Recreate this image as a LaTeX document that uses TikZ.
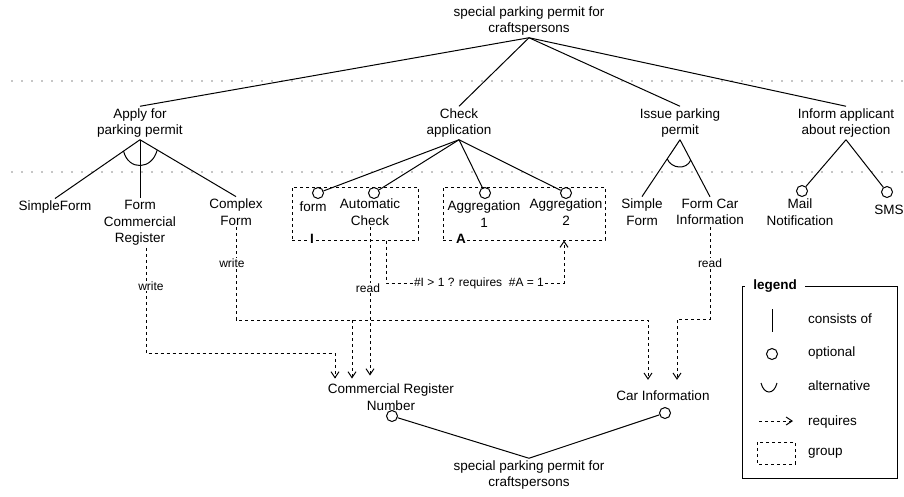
\documentclass[tikz,border=0pt]{standalone}
\usepackage{fontspec}
\setmainfont{Liberation Sans}
\usetikzlibrary{arrows.meta,calc}
\newcommand\mainsz{\fontsize{13.5pt}{16.5pt}\selectfont}
\newcommand\lblsz{\fontsize{12pt}{14pt}\selectfont}
\begin{document}
\begin{tikzpicture}[x=1pt,y=-1pt,
  txt/.style={align=center,inner sep=2pt,font=\mainsz},
  lbl/.style={font=\lblsz,fill=white,inner sep=1pt},
  opt/.style={circle,draw,line width=1pt,minimum size=11pt,inner sep=0pt},
  link/.style={line width=1pt},
  dashln/.style={line width=1pt,dash pattern=on 3pt off 3pt},
  req/.style={dashln,-{Straight Barb[length=6pt,width=8pt]}},
  grp/.style={draw,dashln,inner sep=0pt},
  sepline/.style={black!45,line width=1.6pt,line cap=round,dash pattern=on 0pt off 10pt},
  grplbl/.style={font=\bfseries\mainsz,fill=white,inner sep=1pt},
]
\useasboundingbox (0,0) rectangle (904,496);

% separators
\draw[sepline] (12,81) -- (904,81);
\draw[sepline] (12,172) -- (904,172);

% group boxes
\node[grp,minimum width=126pt,minimum height=53pt] (gI) at (355,213.5) {};
\node[grp,minimum width=162pt,minimum height=53pt] (gA) at (524,213.5) {};
\node[grplbl] (lI) at (312,239) {I};
\node[grplbl] (lA) at (461,239) {A};

% nodes
\node[txt] (root) at (529,21) {special parking permit for\\craftspersons};
\node[txt] (apply) at (140,123) {Apply for\\parking permit};
\node[txt] (check) at (459,123) {Check\\application};
\node[txt] (issue) at (680,123) {Issue parking\\permit};
\node[txt] (inform) at (846,123) {Inform applicant\\about rejection};

\node[txt] (sf) at (55,207) {SimpleForm};
\node[txt] (fcr) at (140,223) {Form\\Commercial\\Register};
\node[txt] (cf) at (236,212) {Complex\\Form};
\node[txt] (form) at (313,207) {form};
\node[txt] (ac) at (370,212) {Automatic\\Check};
\node[txt] (ag1) at (484,214) {Aggregation\\1};
\node[txt] (ag2) at (566,212) {Aggregation\\2};
\node[txt] (ssf) at (642,212) {Simple\\Form};
\node[txt] (fci) at (710,212) {Form Car\\Information};
\node[txt] (mail) at (800,212) {Mail\\Notification};
\node[txt] (sms) at (889,210) {SMS};

\node[opt] (cform) at (318,193) {};
\node[opt] (cac) at (374,193) {};
\node[opt] (cag1) at (485,193) {};
\node[opt] (cag2) at (566,193) {};
\node[opt] (cmail) at (802,191) {};
\node[opt] (csms) at (887,192) {};

\node[txt] (crn) at (391,397) {Commercial Register\\Number};
\node[txt] (car) at (663,396) {Car Information};
\node[txt] (broot) at (529,475) {special parking permit for\\craftspersons};
\node[opt] (ccrn) at (392,416) {};
\node[opt] (ccar) at (665,413) {};

% consists-of links
\foreach \n in {apply,check,issue,inform} \draw[link] (root.south) -- (\n.north);
\foreach \n in {sf,fcr,cf} \draw[link] (apply.south) -- (\n.north);
\foreach \n in {cform,cac,cag1,cag2} \draw[link] (check.south) -- (\n);
\foreach \n in {ssf,fci} \draw[link] (issue.south) -- (\n.north);
\foreach \n in {cmail,csms} \draw[link] (inform.south) -- (\n);
\draw[link] (broot.north) -- (ccrn);
\draw[link] (broot.north) -- (ccar);

% alternative arcs
\draw[link] ($(apply.south)!20pt!(sf.north)$) .. controls +(5,20) and +(-5,20) .. ($(apply.south)!20pt!(cf.north)$);
\draw[link] ($(issue.south)!23pt!(ssf.north)$) .. controls +(4,10) and +(-4,10) .. ($(issue.south)!23pt!(fci.north)$);

% constraint
\node[lbl] (cons) at (479,283) {\#I > 1 ? requires\ \ \#A = 1};
\draw[dashln] ([xshift=31pt]gI.south) |- (cons.west);
\draw[req] (cons.east) -| ([xshift=40pt]gA.south);

% requires connectors
\coordinate (b1) at (335,353);
\coordinate (b2) at (352,320);
\coordinate (b3) at (648,320);
\coordinate (b4) at (677,319);
\draw[req,shorten >=3pt] ([xshift=6pt]fcr.south) |- (b1) -- (b1 |- crn.north);
\draw[req,shorten >=9pt] (cf.south) |- (b3) -- (b3 |- car.north);
\draw[req,shorten >=3pt] (b2) -- (b2 |- crn.north);
\draw[req,shorten >=6pt] (ac.south) -- (ac.south |- crn.north);
\draw[req,shorten >=9pt] (fci.south) |- (b4) -- (b4 |- car.north);

\node[lbl] (w1) at (151,286) {write};
\node[lbl] (w2) at (232,263) {write};
\node[lbl] (r1) at (368,288) {read};
\node[lbl] (r2) at (710,263) {read};

% legend
\node[draw,line width=1pt,minimum width=155pt,minimum height=192pt,inner sep=0pt] (leg) at (819.5,382) {};
\node[font=\bfseries\mainsz,fill=white,inner xsep=8pt,inner ysep=2pt] (legt) at (775,286) {legend};
\draw[link] (772,309) -- (772,332);
\node[opt] (lgopt) at (772,354) {};
\draw[link] (761,383) .. controls +(3,12) and +(-3,12) .. (777,383);
\draw[req] (759,421) -- (793,421);
\draw[dashln] (757,442) rectangle (795,464);
\node[font=\mainsz,anchor=base west,inner sep=0pt] (lg1) at (808,323) {consists of};
\node[font=\mainsz,anchor=base west,inner sep=0pt] (lg2) at (808,356) {optional};
\node[font=\mainsz,anchor=base west,inner sep=0pt] (lg3) at (808,390) {alternative};
\node[font=\mainsz,anchor=base west,inner sep=0pt] (lg4) at (808,425) {requires};
\node[font=\mainsz,anchor=base west,inner sep=0pt] (lg5) at (808,455) {group};
\end{tikzpicture}
\end{document}
